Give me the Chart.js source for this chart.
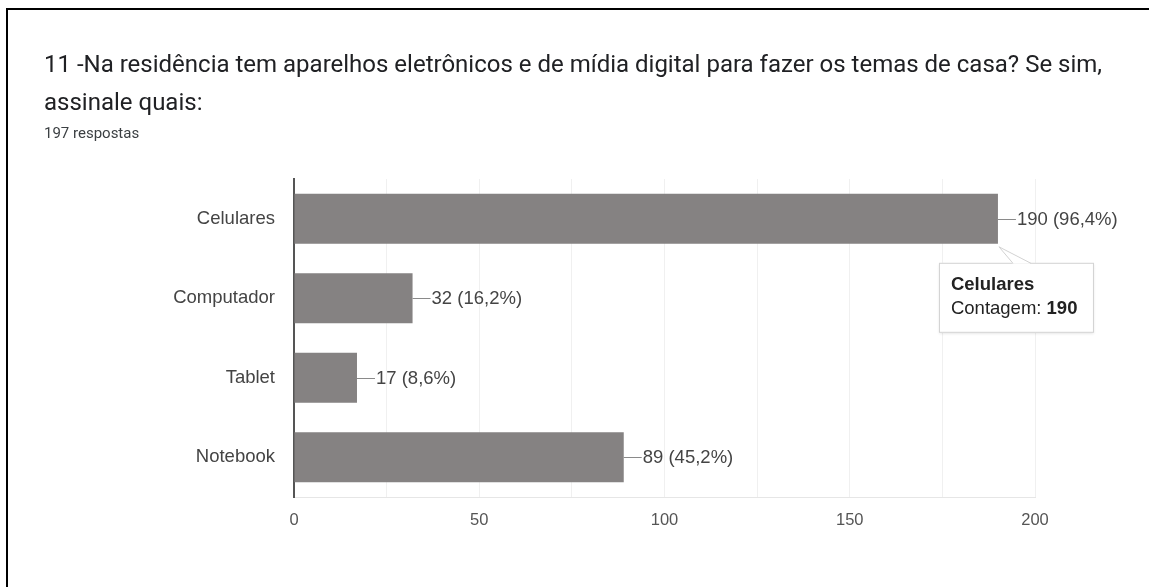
<!DOCTYPE html>
<html>
<head>
<meta charset="utf-8">
<script src="https://cdn.jsdelivr.net/npm/chart.js@4/dist/chart.umd.min.js"></script>
<style>
    body { margin: 0; background: #fff; }
    #wrap { position: relative; width: 1149px; height: 587px; overflow: hidden; }
    #frame { position: absolute; left: 6px; top: 8px; width: 1200px; height: 620px;
             border-left: 2px solid #000; border-top: 2px solid #000; pointer-events: none; }
    canvas { position: absolute; left: 0; top: 0; }
    #question { position: absolute; left: 44px; top: 45px; white-space: nowrap;
                font: 24px/38px Roboto, sans-serif; color: #202124; }
    #answers { position: absolute; left: 44px; top: 124px; white-space: nowrap;
               font: 15px/18px Roboto, sans-serif; color: #3c4043; }
</style>
</head>
<body>
<div id="wrap">
    <canvas id="devices-chart" width="1149" height="587"></canvas>
    <div id="question"></div>
    <div id="answers"></div>
    <div id="frame"></div>
</div>
<script>
const questionLines = [
    '11 -Na residência tem aparelhos eletrônicos e de mídia digital para fazer os temas de casa? Se sim,',
    'assinale quais:'
];
const totalAnswers = 197;
const devices = ['Celulares', 'Computador', 'Tablet', 'Notebook'];
const counts = [190, 32, 17, 89];
const xTicks = [0, 50, 100, 150, 200];
const highlighted = 0;

window.onload = () => {
    let chartFont = "'Liberation Sans', Arial, sans-serif";

    let question = document.getElementById('question');
    questionLines.forEach((line, i) => {
        if (i > 0) question.appendChild(document.createElement('br'));
        question.appendChild(document.createTextNode(line));
    });
    document.getElementById('answers').textContent = totalAnswers + ' respostas';

    function percentText(value) {
        return (value / totalAnswers * 100).toFixed(1).replace('.', ',') + '%';
    }

    // leader line + "count (pct)" at the end of each bar
    let valueLabels = {
        id: 'valueLabels',
        afterDatasetsDraw(chart) {
            let ctx = chart.ctx;
            let meta = chart.getDatasetMeta(0);
            ctx.save();
            ctx.font = '18.5px ' + chartFont;
            ctx.textBaseline = 'middle';
            meta.data.forEach((bar, i) => {
                ctx.strokeStyle = '#8a8a8a';
                ctx.lineWidth = 1;
                ctx.beginPath();
                ctx.moveTo(bar.x, Math.round(bar.y) + 0.5);
                ctx.lineTo(bar.x + 18, Math.round(bar.y) + 0.5);
                ctx.stroke();
                ctx.fillStyle = '#444';
                ctx.fillText(counts[i] + ' (' + percentText(counts[i]) + ')', bar.x + 19, bar.y + 1);
            });
            ctx.restore();
        }
    };

    // hover box pinned under the highlighted bar
    let pinnedTooltip = {
        id: 'pinnedTooltip',
        afterDraw(chart) {
            let ctx = chart.ctx;
            let bar = chart.getDatasetMeta(0).data[highlighted];
            let tipX = bar.x + 1;
            let tipY = bar.y + bar.height / 2 + 3;
            let left = bar.x - 59;
            let top = tipY + 16;
            let w = 155;
            let h = 70;
            ctx.save();
            ctx.shadowColor = 'rgba(0,0,0,0.12)';
            ctx.shadowBlur = 3;
            ctx.shadowOffsetY = 1;
            ctx.fillStyle = '#fff';
            ctx.fillRect(left, top, w, h);
            ctx.shadowColor = 'transparent';
            ctx.strokeStyle = '#d2d2d2';
            ctx.lineWidth = 1;
            ctx.strokeRect(left + 0.5, top + 0.5, w - 1, h - 1);
            // callout wedge
            ctx.fillStyle = '#fff';
            ctx.beginPath();
            ctx.moveTo(tipX, tipY);
            ctx.lineTo(tipX + 14, top + 1);
            ctx.lineTo(tipX + 32, top + 1);
            ctx.closePath();
            ctx.fill();
            ctx.beginPath();
            ctx.moveTo(tipX + 14, top + 0.5);
            ctx.lineTo(tipX, tipY);
            ctx.lineTo(tipX + 32, top + 0.5);
            ctx.stroke();

            ctx.textBaseline = 'middle';
            ctx.fillStyle = '#222';
            ctx.font = 'bold 18.5px ' + chartFont;
            ctx.fillText(devices[highlighted], left + 12, top + 22);
            ctx.font = '18.5px ' + chartFont;
            let lead = 'Contagem: ';
            ctx.fillText(lead, left + 12, top + 46);
            let leadW = ctx.measureText(lead).width;
            ctx.font = 'bold 18.5px ' + chartFont;
            ctx.fillText(String(counts[highlighted]), left + 12 + leadW, top + 46);
            ctx.restore();
        }
    };

    let devicesChart = {
        type: 'bar',
        data: {
            labels: devices,
            datasets: [{
                data: counts,
                backgroundColor: '#858282',
                borderWidth: 0,
                categoryPercentage: 1,
                barPercentage: 0.63
            }]
        },
        options: {
            indexAxis: 'y',
            responsive: false,
            animation: false,
            events: [],
            layout: {
                padding: { left: 44, right: 114, top: 179, bottom: 50 }
            },
            scales: {
                x: {
                    min: 0,
                    max: 200,
                    afterBuildTicks(scale) {
                        let t = [];
                        for (let v = 0; v <= 200; v += 25) t.push({ value: v });
                        scale.ticks = t;
                    },
                    afterFit(scale) { scale.height = 40; },
                    grid: { color: '#f0f0f0', drawTicks: false },
                    border: { color: '#e6e6e6' },
                    ticks: {
                        autoSkip: false,
                        maxRotation: 0,
                        padding: 14,
                        color: '#555',
                        font: { family: chartFont, size: 16.5 },
                        callback: (v) => xTicks.includes(v) ? String(v) : ''
                    }
                },
                y: {
                    afterFit(scale) { scale.width = 250; },
                    grid: { display: false, drawTicks: false },
                    border: { color: '#555', width: 2 },
                    ticks: {
                        padding: 19,
                        color: '#444',
                        font: { family: chartFont, size: 18.5 }
                    }
                }
            },
            plugins: {
                legend: { display: false },
                tooltip: { enabled: false }
            }
        },
        plugins: [valueLabels, pinnedTooltip]
    };

    new Chart(document.getElementById('devices-chart'), devicesChart);
};
</script>
</body>
</html>
